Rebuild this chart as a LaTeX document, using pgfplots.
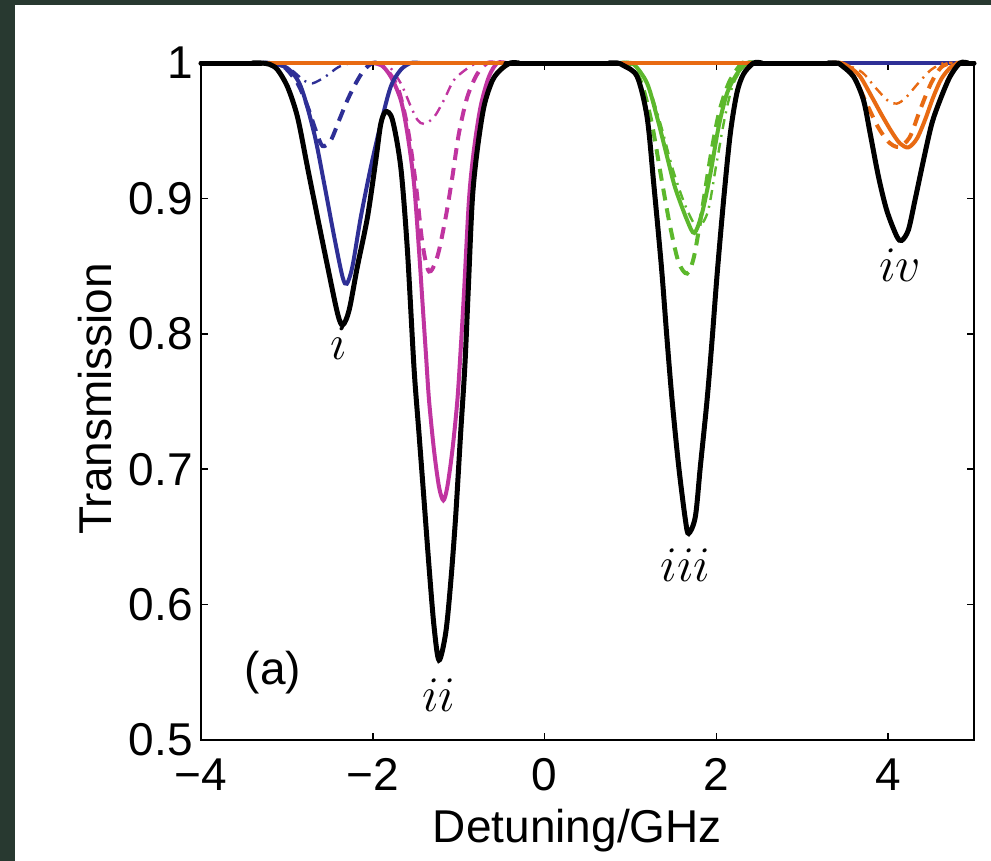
\documentclass[border=0pt]{standalone}
\usepackage{fontspec}
\setmainfont{Liberation Sans}
\usepackage{pgfplots}
\pgfplotsset{compat=1.18}

\definecolor{bgdark}{RGB}{40,57,48}
\definecolor{cblue}{RGB}{46,47,150}
\definecolor{cmag}{RGB}{192,52,160}
\definecolor{cgreen}{RGB}{92,184,44}
\definecolor{corange}{RGB}{232,106,18}

\newcommand{\fs}{\fontsize{23}{27}\selectfont}

\begin{document}
\begin{tikzpicture}
\useasboundingbox (-100.5pt,-60.5pt) rectangle (395pt,370pt);
\fill[bgdark] (-100.5pt,-60.5pt) rectangle (395pt,370pt);
\fill[white] (-93pt,-60.5pt) rectangle (395pt,367.5pt);
\begin{axis}[
  at={(0,0)}, anchor=south west,
  scale only axis, width=386.5pt, height=338.5pt,
  xmin=-4, xmax=5, ymin=0.5, ymax=1,
  xtick={-4,-2,0,2,4},
  xticklabels={−4,−2,0,2,4},
  ytick={0.5,0.6,0.7,0.8,0.9,1},
  yticklabels={0.5,0.6,0.7,0.8,0.9,1},
  tick align=inside, major tick length=3.5pt,
  tick style={black, line width=0.8pt},
  axis line style={line width=1pt},
  tick label style={font=\fs, inner sep=0pt},
  xticklabel shift=9pt, yticklabel shift=4pt,
  label style={font=\fs, inner sep=0pt},
  xlabel={Detuning/GHz},
  ylabel={Transmission},
  xlabel style={at={(axis description cs:0.487,-0.152)}, anchor=base},
  ylabel style={at={(axis description cs:-0.1164,0.504)}, anchor=base},
  clip=false,
  every axis plot/.append style={smooth, tension=0.5, no markers, line cap=round},
  dd/.style={line width=1.2pt, dash pattern=on 5pt off 3pt on 1pt off 3pt, line cap=butt},
  da/.style={line width=2pt, dash pattern=on 6pt off 4pt, line cap=butt},
  so/.style={line width=2pt},
]
% magenta (ii)
\addplot[cmag, dd] coordinates {
(-1.95,1) (-1.83,0.999) (-1.674,0.985) (-1.558,0.968) (-1.48,0.958) (-1.403,0.955)
(-1.287,0.960) (-1.171,0.9727) (-1.055,0.9874) (-0.899,0.996) (-0.783,1) (-0.68,1)};
\addplot[cmag, da] coordinates {
(-2.0,1) (-1.868,0.997) (-1.713,0.9825) (-1.597,0.953) (-1.5,0.911) (-1.422,0.867)
(-1.345,0.846) (-1.248,0.857) (-1.151,0.886) (-1.073,0.916) (-0.997,0.948) (-0.899,0.975)
(-0.783,0.992) (-0.667,1) (-0.57,1)};
\addplot[cmag, so] coordinates {
(-2.0,1) (-1.907,0.999) (-1.791,0.990) (-1.674,0.9727) (-1.597,0.948) (-1.52,0.911)
(-1.462,0.862) (-1.42,0.822) (-1.38,0.784) (-1.345,0.751) (-1.287,0.714) (-1.229,0.687)
(-1.178,0.677) (-1.132,0.687) (-1.073,0.714) (-1.015,0.751) (-0.977,0.788) (-0.938,0.83)
(-0.88,0.899) (-0.822,0.936) (-0.744,0.968) (-0.647,0.990) (-0.55,1) (-0.45,1)};
% green (iii)
\addplot[cgreen, dd] coordinates {
(0.95,1) (1.05,0.999) (1.2,0.985) (1.35,0.955) (1.5,0.92) (1.65,0.893) (1.78,0.879) (1.9,0.89)
(2.0,0.925) (2.1,0.96) (2.2,0.985) (2.35,1) (2.45,1)};
\addplot[cgreen, da] coordinates {
(0.88,1) (0.99,0.999) (1.13,0.985) (1.25,0.955) (1.36,0.915) (1.46,0.88) (1.56,0.853)
(1.66,0.8445) (1.74,0.857) (1.83,0.89) (1.93,0.93) (2.03,0.963) (2.15,0.986) (2.3,1) (2.4,1)};
\addplot[cgreen, so] coordinates {
(0.92,1) (1.039,0.999) (1.194,0.985) (1.31,0.960) (1.426,0.931) (1.52,0.908)
(1.659,0.884) (1.744,0.8745) (1.833,0.889) (1.93,0.918) (2.027,0.953) (2.124,0.9775)
(2.24,0.992) (2.357,1) (2.45,1)};
% blue (i)
\addplot[cblue, dd] coordinates {
(-3.2,1) (-3.1,0.999) (-2.95,0.995) (-2.8,0.987) (-2.7,0.985) (-2.55,0.99) (-2.4,0.997) (-2.25,1) (-2.15,1)};
\addplot[cblue, da] coordinates {
(-3.25,1) (-3.15,0.9995) (-3.03,0.997) (-2.876,0.985) (-2.76,0.968) (-2.663,0.950) (-2.585,0.9387)
(-2.488,0.943) (-2.39,0.958) (-2.294,0.9727) (-2.198,0.985) (-2.1,0.995) (-2.0,1) (-1.9,1)};
\addplot[cblue, so, sharp plot] coordinates {(-4,1) (-3.2,1)};
\addplot[cblue, so, sharp plot] coordinates {(-1.558,1) (5,1)};
\addplot[cblue, so] coordinates {
(-3.3,1) (-3.2,1) (-2.99,0.996) (-2.837,0.9825) (-2.682,0.948) (-2.566,0.911) (-2.45,0.872)
(-2.352,0.842) (-2.302,0.837) (-2.236,0.850) (-2.14,0.886) (-2.023,0.923) (-1.907,0.955)
(-1.791,0.9825) (-1.674,0.995) (-1.558,1) (-1.45,1)};
% orange (iv)
\addplot[corange, dd] coordinates {
(3.4,1) (3.5,0.999) (3.7,0.993) (3.85,0.982) (4.0,0.972) (4.1,0.97) (4.2,0.974) (4.35,0.985)
(4.5,0.995) (4.65,1) (4.75,1)};
\addplot[corange, da] coordinates {
(3.35,1) (3.45,0.999) (3.6,0.99) (3.75,0.97) (3.88,0.953) (4.0,0.942) (4.12,0.938) (4.25,0.945)
(4.37,0.965) (4.5,0.985) (4.62,0.997) (4.75,1) (4.85,1)};
\addplot[corange, so, sharp plot] coordinates {(-4,1) (3.45,1)};
\addplot[corange, so, sharp plot] coordinates {(4.837,1) (5,1)};
\addplot[corange, so] coordinates {
(3.35,1) (3.45,1) (3.55,0.997) (3.674,0.990) (3.81,0.975) (3.926,0.9616) (4.043,0.949)
(4.14,0.9405) (4.236,0.9377) (4.334,0.944) (4.43,0.958) (4.527,0.975) (4.624,0.9887)
(4.74,0.9975) (4.837,1) (4.93,1)};
% black total
\addplot[black, line width=2.5pt, sharp plot] coordinates {(-4,1) (-3.3,1)};
\addplot[black, line width=2.5pt, sharp plot] coordinates {(-0.45,1) (0.85,1)};
\addplot[black, line width=2.5pt, sharp plot] coordinates {(2.434,1) (3.4,1)};
\addplot[black, line width=2.5pt, sharp plot] coordinates {(4.837,1) (5,1)};
\addplot[black, line width=2.5pt] coordinates {
(-3.4,1) (-3.3,1) (-3.2,0.999) (-3.108,0.995) (-2.99,0.982) (-2.876,0.960) (-2.76,0.923)
(-2.643,0.886) (-2.527,0.850) (-2.41,0.815) (-2.35,0.8065) (-2.275,0.8176) (-2.178,0.850)
(-2.062,0.886) (-1.965,0.928) (-1.907,0.955) (-1.849,0.964) (-1.771,0.958) (-1.674,0.923)
(-1.597,0.862) (-1.52,0.775) (-1.462,0.7265) (-1.403,0.677) (-1.345,0.628) (-1.287,0.584)
(-1.229,0.559) (-1.151,0.579) (-1.093,0.616) (-1.035,0.665) (-0.977,0.7265) (-0.928,0.776)
(-0.89,0.83) (-0.841,0.899) (-0.783,0.936) (-0.705,0.968) (-0.608,0.987) (-0.512,0.995)
(-0.4,1) (-0.3,1)};
\addplot[black, line width=2.5pt] coordinates {
(0.75,1) (0.85,1) (0.923,0.998) (1.078,0.990) (1.194,0.960) (1.271,0.911) (1.36,0.850)
(1.426,0.796) (1.485,0.751) (1.562,0.702) (1.64,0.6625) (1.678,0.6525) (1.756,0.665)
(1.814,0.702) (1.892,0.751) (1.95,0.795) (2.008,0.843) (2.085,0.899) (2.163,0.948)
(2.24,0.978) (2.318,0.992) (2.434,1) (2.53,1)};
\addplot[black, line width=2.5pt] coordinates {
(3.3,1) (3.4,1) (3.442,0.999) (3.597,0.990) (3.713,0.9727)
(3.791,0.948) (3.888,0.916) (3.985,0.891) (4.101,0.872) (4.159,0.869) (4.236,0.8767)
(4.314,0.899) (4.411,0.928) (4.508,0.955) (4.605,0.9727) (4.721,0.990) (4.837,1) (4.93,1)};
\node[font=\fs] at (axis cs:-2.395,0.793) {$i$};
\node[font=\fs] at (axis cs:-1.233,0.533) {$ii$};
\node[font=\fs] at (axis cs:1.64,0.629) {$iii$};
\node[font=\fs] at (axis cs:4.14,0.851) {$iv$};
\node[font=\fs] at (axis cs:-3.163,0.550) {(a)};
\end{axis}
\end{tikzpicture}
\end{document}
